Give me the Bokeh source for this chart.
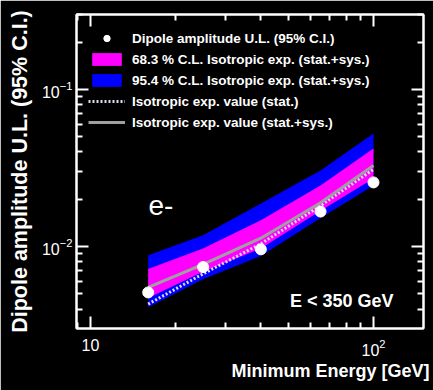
from bokeh.plotting import figure
from bokeh.models import (LogAxis, Legend, LegendItem, Label, Range1d, FixedTicker,
                          CustomJSTickFormatter, Title)
from bokeh.embed import file_html
from bokeh.resources import INLINE

# ---- data ----
energy = [16, 25, 40, 65, 100]
dipole_ul = [0.0051, 0.0074, 0.0096, 0.0167, 0.0256]
band95_low = [0.0041, 0.0062, 0.0087, 0.0152, 0.0245]
band95_high = [0.0088, 0.0118, 0.0188, 0.0305, 0.0525]
band68_low = [0.0047, 0.0069, 0.0097, 0.0169, 0.0271]
band68_high = [0.0072, 0.0097, 0.0147, 0.0245, 0.0421]
iso_stat = [0.0043, 0.0067, 0.0104, 0.0182, 0.0310]
iso_statsys = [0.0055, 0.0077, 0.0113, 0.0190, 0.0328]

x_ticks = [10, 100]
y_ticks = [0.01, 0.1]
x_decades = [1, 10, 100]
y_decades = [0.001, 0.01, 0.1]

x_minor = [m * d for d in x_decades for m in range(2, 10)]
y_minor = [m * d for d in y_decades for m in range(2, 10)]

FONT = "Liberation Sans"
WHITE = "white"

p = figure(width=433, height=390, x_axis_type="log", y_axis_type="log",
           x_range=Range1d(8.93, 150.2), y_range=Range1d(0.003006, 0.3003),
           output_backend="svg", toolbar_location=None,
           background_fill_color="black", border_fill_color="black",
           min_border_left=76, min_border_right=10, min_border_top=14, min_border_bottom=62)
p.grid.visible = False
p.outline_line_color = WHITE
p.outline_line_width = 2

# bands and lines
r95 = p.varea(x=energy, y1=band95_low, y2=band95_high, fill_color="#0000ff")
r68 = p.varea(x=energy, y1=band68_low, y2=band68_high, fill_color="#ff00ff")
rstat = p.line(x=energy, y=iso_stat, line_color="#dcdcf0", line_width=3, line_dash="2 2")
rsys = p.line(x=energy, y=iso_statsys, line_color="#a0a0a0", line_width=3)
rpts = p.scatter(x=energy, y=dipole_ul, size=11, fill_color=WHITE, line_color=WHITE)

def style_axis(ax, labels=True):
    ax.axis_line_color = WHITE
    ax.axis_line_width = 2
    ax.major_tick_line_color = WHITE
    ax.minor_tick_line_color = WHITE
    ax.major_tick_line_width = 2
    ax.minor_tick_line_width = 2
    ax.major_tick_in = 12
    ax.major_tick_out = 0
    ax.minor_tick_in = 6
    ax.minor_tick_out = 0
    ax.major_label_text_color = WHITE
    ax.major_label_text_font = FONT
    ax.major_label_text_font_size = "16px"
    ax.axis_label_text_color = WHITE
    ax.axis_label_text_font = FONT
    ax.axis_label_text_font_style = "bold"
    if not labels:
        ax.formatter = CustomJSTickFormatter(code="return ''")
        ax.major_label_standoff = 0
        ax.axis_label = None

xa = p.xaxis[0]
ya = p.yaxis[0]
style_axis(xa)
style_axis(ya)
xa.ticker = FixedTicker(ticks=x_ticks, minor_ticks=x_minor)
ya.ticker = FixedTicker(ticks=y_ticks, minor_ticks=y_minor)
xa.major_label_overrides = {10: "10"}
xa.major_label_standoff = 10
ya.major_label_standoff = 4
ya.axis_label = "Dipole amplitude U.L. (95% C.I.)"
ya.axis_label_text_font_size = "21.5px"
ya.axis_label_standoff = 7

top = LogAxis(ticker=FixedTicker(ticks=x_ticks, minor_ticks=x_minor))
right = LogAxis(ticker=FixedTicker(ticks=y_ticks, minor_ticks=y_minor))
style_axis(top, labels=False)
style_axis(right, labels=False)
p.add_layout(top, "above")
p.add_layout(right, "right")

# x-axis title, right-aligned with the frame
xtitle = Title(text="Minimum Energy [GeV]", align="right", text_color=WHITE,
               text_font=FONT, text_font_size="18px", text_font_style="bold",
               standoff=0, offset=-6)
p.add_layout(xtitle, "below")

legend = Legend(items=[
    LegendItem(label="Dipole amplitude U.L. (95% C.I.)", renderers=[rpts]),
    LegendItem(label="68.3 % C.L. Isotropic exp. (stat.+sys.)", renderers=[r68]),
    LegendItem(label="95.4 % C.L. Isotropic exp. (stat.+sys.)", renderers=[r95]),
    LegendItem(label="Isotropic exp. value (stat.)", renderers=[rstat]),
    LegendItem(label="Isotropic exp. value (stat.+sys.)", renderers=[rsys]),
], location=(12, 198))
legend.margin = 0
legend.padding = 0
legend.spacing = 5
legend.glyph_width = 37
legend.glyph_height = 16
legend.label_height = 16
legend.label_standoff = 7
legend.background_fill_alpha = 0
legend.border_line_alpha = 0
legend.label_text_color = WHITE
legend.label_text_font = FONT
legend.label_text_font_style = "bold"
legend.label_text_font_size = "13.5px"
p.add_layout(legend, "center")

p.add_layout(Label(x=72, y=123, x_units="screen", y_units="screen", text="e-",
                   text_color=WHITE, text_font=FONT, text_font_size="28px",
                   text_baseline="middle"))
p.add_layout(Label(x=317, y=28, x_units="screen", y_units="screen", text="E < 350 GeV",
                   text_color=WHITE, text_font=FONT, text_font_size="18px",
                   text_font_style="bold", text_align="right", text_baseline="middle"))

open("out.html", "w").write(file_html(p, INLINE))
